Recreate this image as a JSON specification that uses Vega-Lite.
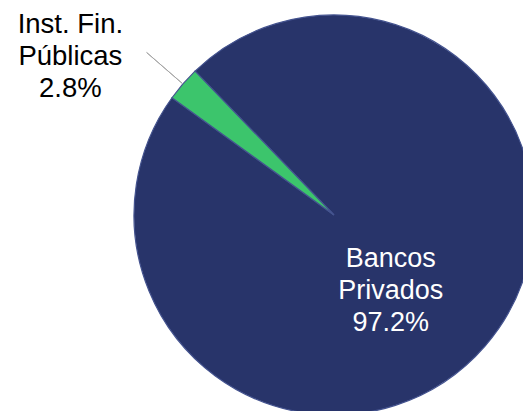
{
  "$schema": "https://vega.github.io/schema/vega-lite/v6.json",
  "width": 376,
  "height": 392,
  "padding": {"left": 146, "top": 19, "right": 1, "bottom": 0},
  "autosize": {"type": "none"},
  "background": "white",
  "config": {"view": {"stroke": null}},
  "data": {
    "values": [
      {"categoria": "Bancos Privados", "porcentaje": 97.2, "orden": 1, "etiqueta": "Bancos\nPrivados\n97.2%"},
      {"categoria": "Inst. Fin. Públicas", "porcentaje": 2.8, "orden": 2, "etiqueta": "Inst. Fin.\nPúblicas\n2.8%"}
    ]
  },
  "encoding": {
    "theta": {"field": "porcentaje", "type": "quantitative", "stack": true, "scale": {"range": [5.515, 11.798]}},
    "order": {"field": "orden", "type": "quantitative"},
    "detail": {"field": "categoria", "type": "nominal"}
  },
  "layer": [
    {
      "mark": {"type": "arc", "outerRadius": 200, "stroke": "#44538f", "strokeWidth": 1.2},
      "encoding": {
        "color": {
          "field": "categoria",
          "type": "nominal",
          "scale": {"domain": ["Bancos Privados", "Inst. Fin. Públicas"], "range": ["#28346a", "#3cc56c"]},
          "legend": null
        }
      }
    },
    {
      "mark": {"type": "arc", "radius": 248, "radius2": 201, "padAngle": 0.3, "fill": null, "stroke": "#a6a6a6", "strokeWidth": 1},
      "encoding": {
        "strokeOpacity": {"condition": {"test": "datum.categoria == 'Inst. Fin. Públicas'", "value": 1}, "value": 0}
      }
    },
    {
      "mark": {"type": "text", "radius": 95, "dx": -15, "dy": -18, "font": "Liberation Sans", "fontSize": 27, "lineHeight": 32, "lineBreak": "\n", "align": "center", "baseline": "middle", "fill": "white"},
      "encoding": {
        "text": {"field": "etiqueta", "type": "nominal"},
        "opacity": {"condition": {"test": "datum.categoria == 'Bancos Privados'", "value": 1}, "value": 0}
      }
    },
    {
      "mark": {"type": "text", "radius": 300, "dx": -37, "dy": 7, "font": "Liberation Sans", "fontSize": 27.5, "lineHeight": 32, "lineBreak": "\n", "align": "center", "baseline": "middle", "fill": "black"},
      "encoding": {
        "text": {"field": "etiqueta", "type": "nominal"},
        "opacity": {"condition": {"test": "datum.categoria == 'Inst. Fin. Públicas'", "value": 1}, "value": 0}
      }
    }
  ]
}
